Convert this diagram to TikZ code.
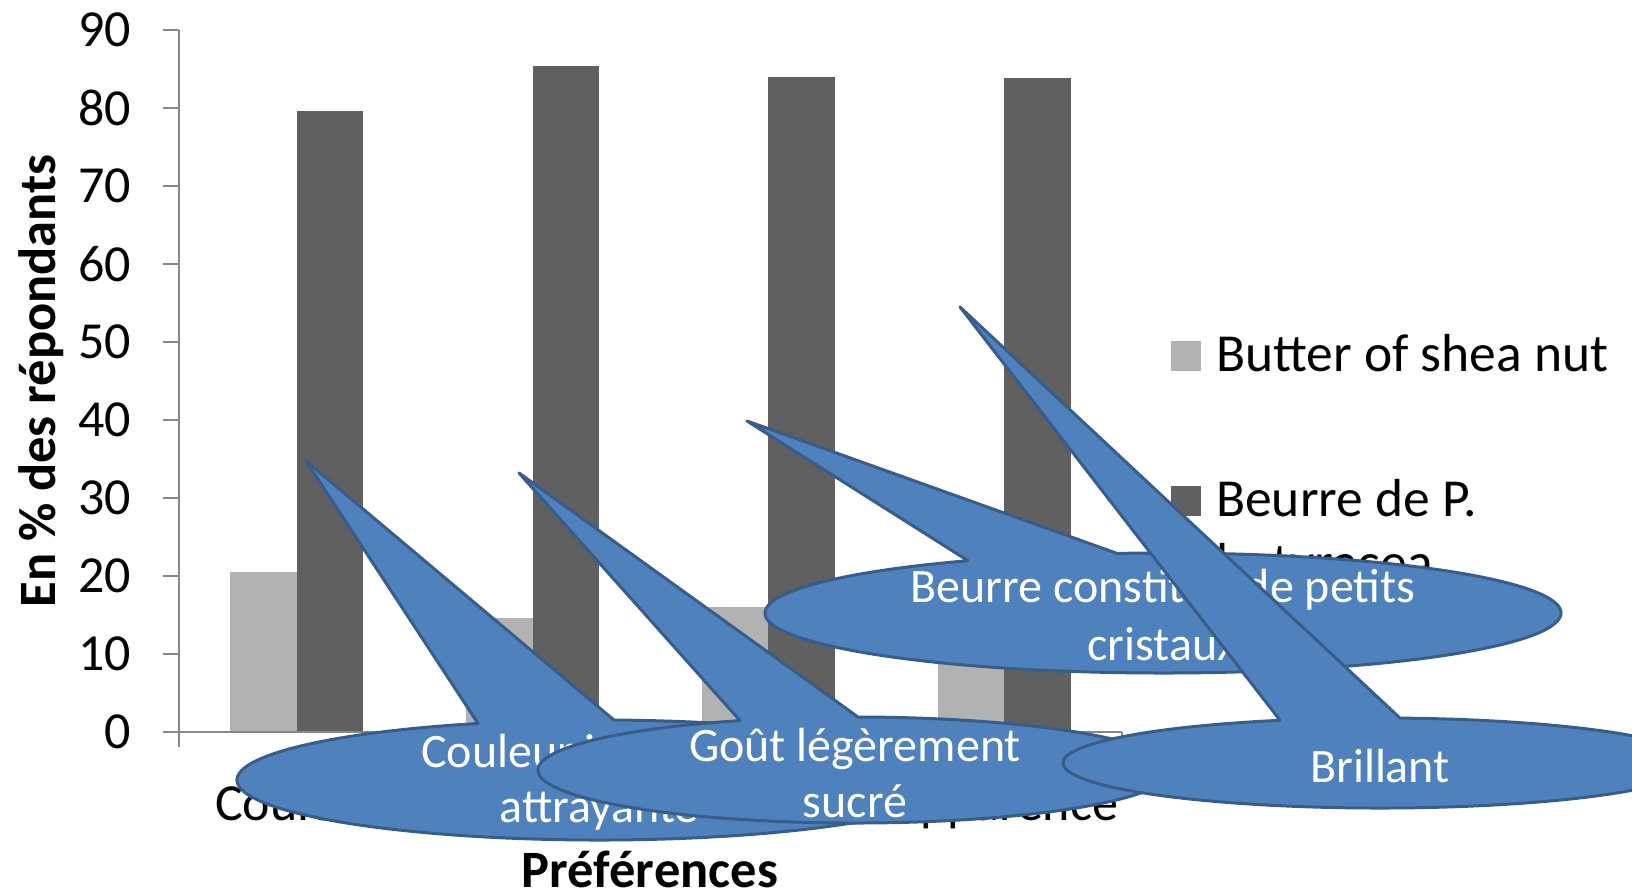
\documentclass[tikz,border=0pt]{standalone}
\usepackage{fontspec}
\setmainfont{Carlito}
\usetikzlibrary{calc}
\definecolor{barlight}{HTML}{B2B2B2}
\definecolor{bardark}{HTML}{606060}
\definecolor{axisgray}{HTML}{878787}
\definecolor{callfill}{HTML}{4F81BD}
\definecolor{callline}{HTML}{385D8A}
% #1 name, #2 cx, #3 cy, #4 x radius, #5 y radius, #6 x of left base, #7 x of right base, #8 tip
\newcommand\ovalcall[8]{%
  \pgfmathsetmacro\cotA{acos((#6-#2)/#4)}%
  \pgfmathsetmacro\cotB{acos((#7-#2)/#4)+360}%
  \coordinate (#1-tip) at #8;
  \coordinate (#1-c) at (#2,#3);
  \draw[callout] (#1-tip) -- ($(#1-c)+(\cotA:#4pt and #5pt)$)
    arc[start angle=\cotA, end angle=\cotB, x radius=#4pt, y radius=#5pt] -- cycle;
}
\begin{document}
\begin{tikzpicture}[x=1pt,y=-1pt,
  axisline/.style={draw=axisgray,line width=2pt},
  lightbar/.style={fill=barlight},
  darkbar/.style={fill=bardark},
  ticklab/.style={font=\fontsize{52}{62}\selectfont,anchor=east,inner sep=0pt},
  catlab/.style={font=\fontsize{52}{62}\selectfont,anchor=base,inner sep=0pt},
  legtext/.style={font=\fontsize{53.5}{64}\selectfont,anchor=base west,inner sep=0pt},
  axtitle/.style={font=\bfseries\fontsize{52.5}{62}\selectfont,inner sep=0pt},
  callout/.style={fill=callfill,draw=callline,line width=3pt,line join=round},
  calltext/.style={font=\fontsize{48}{58}\selectfont,text=white,anchor=base,inner sep=0pt},
]
\useasboundingbox (0,0) rectangle (1632,894);
\clip (0,0) rectangle (1632,894);

% bars
\foreach \i/\lv/\dv in {0/20.5/79.6,1/14.6/85.4,2/16.0/84.0,3/13/83.8}{
  \pgfmathsetmacro\gcx{179+235.75*(\i+0.5)}
  \fill[lightbar] (\gcx-66.6,732) rectangle (\gcx,{732-7.8*\lv});
  \fill[darkbar] (\gcx,732) rectangle (\gcx+66.6,{732-7.8*\dv});
}

% axes
\foreach \v in {0,10,...,90}{
  \draw[axisline] (163,{732-7.8*\v}) -- (179,{732-7.8*\v});
  \node[ticklab] (t\v) at (131,{732-7.8*\v}) {\v};
}
\draw[axisline] (179,30) -- (179,747);
\draw[axisline] (163,732) -- (1122,732);
\foreach \k in {1,...,4}{
  \draw[axisline] ({179+235.75*\k},732) -- ({179+235.75*\k},747);
}

% axis titles and category labels
\node[axtitle,rotate=90] (ytitle) at (41,381) {En \% des répondants};
\node[axtitle,anchor=base] (xtitle) at (650,887) {Préférences};
\node[catlab] (cat1) at (298,820) {Couleur};
\node[catlab] (cat4) at (1004,820) {Apparence};

% legend
\fill[lightbar] (1171,341) rectangle (1201,371);
\node[legtext] (leg1) at (1216,371) {Butter of shea nut};
\fill[darkbar] (1171,486) rectangle (1201,516);
\node[legtext] (leg2) at (1216,516) {Beurre de P.};
\node[legtext] (leg2b) at (1216,580) {butyracea};

% callouts
\ovalcall{c1}{599}{780}{362}{60}{478}{614}{(306,461)}
\node[calltext,anchor=base west] (c1a) at (421,767) {Couleur ivoire très};
\node[calltext] (c1b) at (599,822) {attrayante};

\ovalcall{c2}{855}{770}{317}{53}{740}{858}{(519,473)}
\node[calltext] (c2a) at (855,761) {Goût légèrement};
\node[calltext] (c2b) at (855,817) {sucré};

\ovalcall{c3}{1163}{613}{398}{60}{968}{1117}{(747,421)}
\node[calltext] (c3a) at (1163,602) {Beurre constitué de petits};
\node[calltext] (c3b) at (1163,660) {cristaux};

\ovalcall{c4}{1380}{763}{317}{45}{1280}{1400}{(960,307)}
\node[calltext] (c4a) at (1380,782) {Brillant};
\end{tikzpicture}
\end{document}
